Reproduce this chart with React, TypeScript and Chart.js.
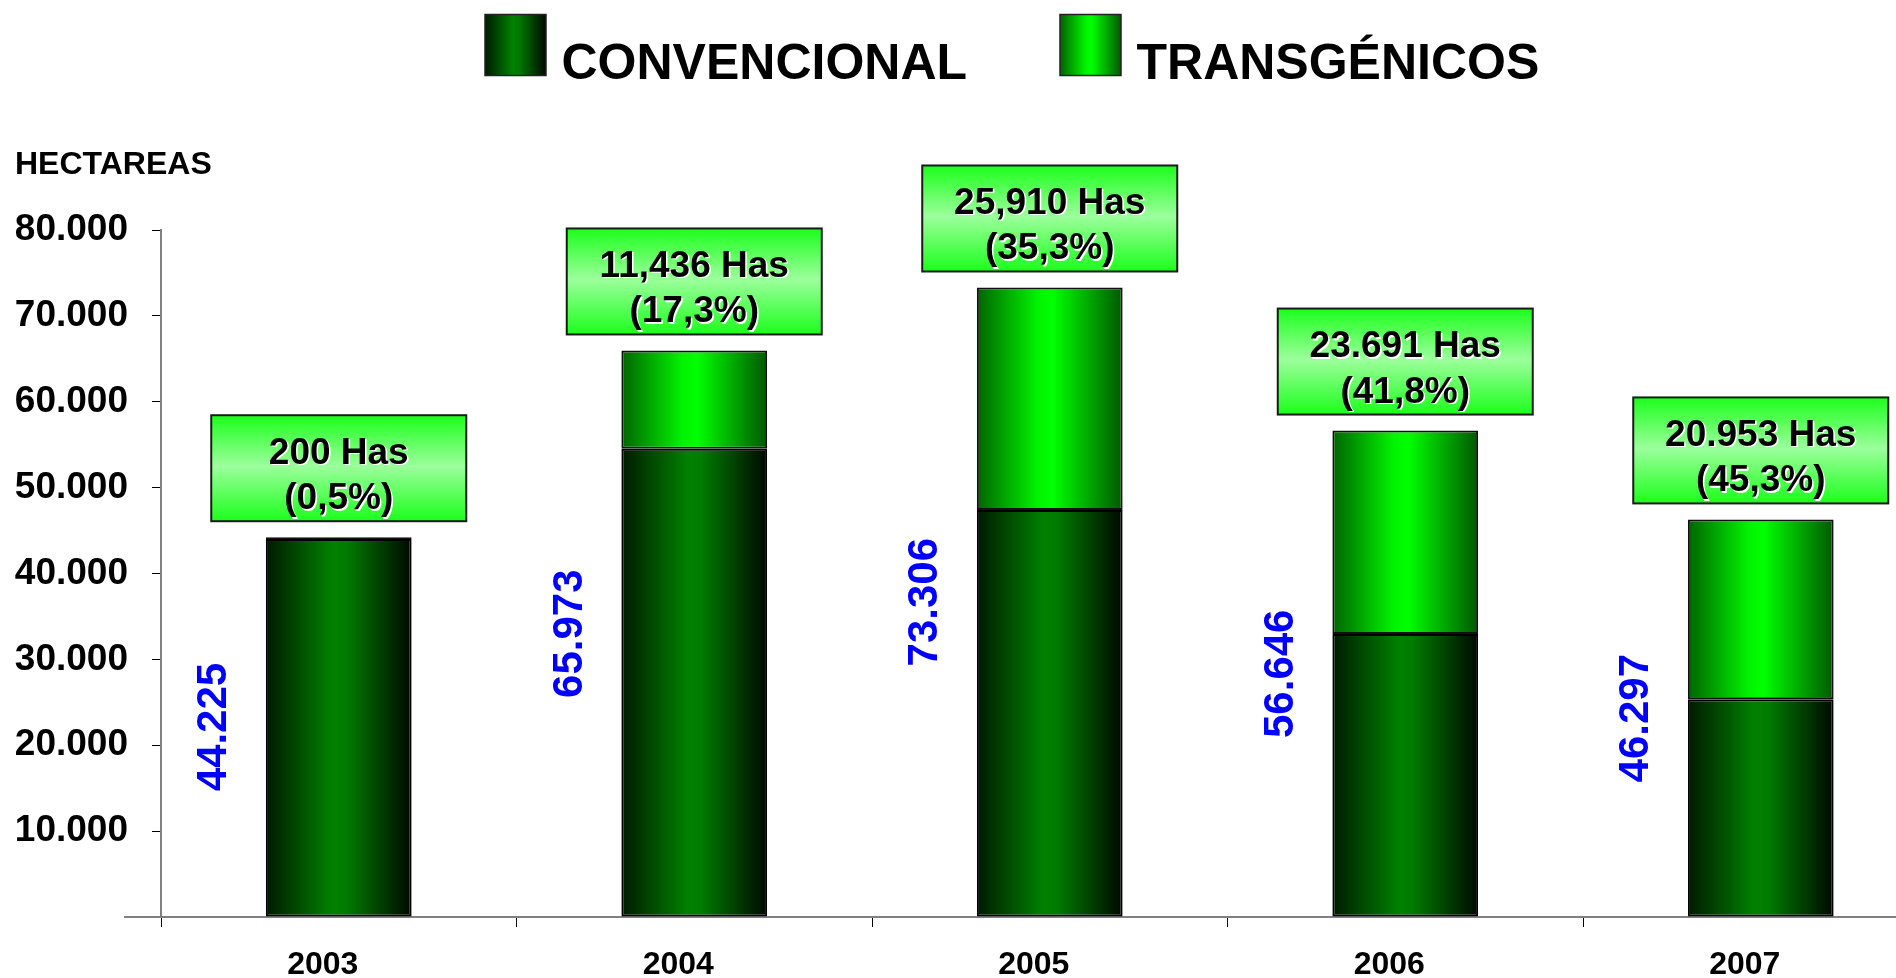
import React, { useEffect, useRef } from 'react';
import { Chart, registerables } from 'chart.js';

Chart.register(...registerables);

// ---- data ----
const years = ['2003', '2004', '2005', '2006', '2007'];
const convencional = [44025, 54537, 47396, 32955, 25344];
const transgenicos = [200, 11436, 25910, 23691, 20953];
const totalLabels = ['44.225', '65.973', '73.306', '56.646', '46.297'];
const hasLabels = ['200 Has', '11,436 Has', '25,910 Has', '23.691 Has', '20.953 Has'];
const pctLabels = ['(0,5%)', '(17,3%)', '(35,3%)', '(41,8%)', '(45,3%)'];
const seriesNames = ['CONVENCIONAL', 'TRANSGÉNICOS'];
const axisTitle = 'HECTAREAS';

const FONT = '"Liberation Sans", Arial, Helvetica, sans-serif';
const CANVAS_W = 1960;
const CANVAS_H = 978;
const BAR_PCT = 0.41;

const convStops: [number, string][] = [
  [0, '#001a00'],
  [0.45, '#008000'],
  [0.55, '#007c00'],
  [1, '#000800'],
];
const transStops: [number, string][] = [
  [0, '#006400'],
  [0.42, '#00f400'],
  [0.52, '#00ff00'],
  [1, '#005800'],
];

function hGrad(ctx: CanvasRenderingContext2D, x0: number, x1: number, stops: [number, string][]) {
  const g = ctx.createLinearGradient(x0, 0, x1, 0);
  stops.forEach(([o, c]) => g.addColorStop(o, c));
  return g;
}

function barFill(stops: [number, string][]) {
  return (c: any) => {
    const chart = c.chart;
    const xs = chart.scales && chart.scales.x;
    if (!chart.chartArea || !xs || c.type !== 'data') return stops[1][1];
    const cx = xs.getPixelForValue(c.dataIndex);
    const w = (xs.width / years.length) * BAR_PCT;
    return hGrad(chart.ctx, cx - w / 2, cx + w / 2, stops);
  };
}

const decorPlugin = {
  id: 'decor',
  afterDatasetsDraw(chart: any) {
    const ctx: CanvasRenderingContext2D = chart.ctx;
    const xs = chart.scales.x;
    const ys = chart.scales.y;
    const boxW = 255;
    const boxH = 106;
    const gap = 16;
    years.forEach((_, i) => {
      const total = convencional[i] + transgenicos[i];
      const cx = xs.getPixelForValue(i);
      const top = ys.getPixelForValue(total);

      // rotated total label
      ctx.save();
      ctx.translate(cx - 124, ys.getPixelForValue(total / 2));
      ctx.rotate(-Math.PI / 2);
      ctx.font = `bold 42px ${FONT}`;
      ctx.fillStyle = '#0000ff';
      ctx.textAlign = 'center';
      ctx.textBaseline = 'middle';
      ctx.fillText(totalLabels[i], 0, 0);
      ctx.restore();

      // callout box
      const bBottom = top - gap;
      const bTop = bBottom - boxH;
      const bLeft = cx - boxW / 2;
      ctx.save();
      const g = ctx.createLinearGradient(0, bTop, 0, bBottom);
      g.addColorStop(0, '#1cff1c');
      g.addColorStop(0.48, '#9cff9c');
      g.addColorStop(1, '#1cff1c');
      ctx.fillStyle = g;
      ctx.fillRect(bLeft, bTop, boxW, boxH);
      ctx.lineWidth = 2;
      ctx.strokeStyle = '#1a1a1a';
      ctx.strokeRect(bLeft, bTop, boxW, boxH);
      ctx.font = `bold 37px ${FONT}`;
      ctx.textAlign = 'center';
      ctx.textBaseline = 'alphabetic';
      ctx.fillStyle = '#000';
      ctx.shadowColor = '#ffffff';
      ctx.shadowOffsetX = 1.5;
      ctx.shadowOffsetY = 1.5;
      ctx.shadowBlur = 0;
      ctx.fillText(hasLabels[i], cx, bTop + 48.5);
      ctx.fillText(pctLabels[i], cx, bTop + 94);
      ctx.restore();
    });
  },
  afterDraw(chart: any) {
    const ctx: CanvasRenderingContext2D = chart.ctx;
    const area = chart.chartArea;
    ctx.save();
    // x axis extension to the left of the y axis
    ctx.strokeStyle = '#808080';
    ctx.lineWidth = 2;
    ctx.beginPath();
    ctx.moveTo(124, area.bottom);
    ctx.lineTo(area.left, area.bottom);
    ctx.stroke();

    // axis title
    ctx.fillStyle = '#000';
    ctx.font = `bold 32px ${FONT}`;
    ctx.textAlign = 'left';
    ctx.textBaseline = 'alphabetic';
    ctx.fillText(axisTitle, 15, 174);

    // legend
    const items = [
      { x: 485, stops: convStops, tx: 561.5 },
      { x: 1060, stops: transStops, tx: 1136.5 },
    ];
    items.forEach((it, k) => {
      const w = 61;
      const h = 61;
      const y = 14.5;
      ctx.fillStyle = hGrad(ctx, it.x, it.x + w, it.stops);
      ctx.fillRect(it.x, y, w, h);
      ctx.lineWidth = 1.5;
      ctx.strokeStyle = '#222';
      ctx.strokeRect(it.x, y, w, h);
      ctx.fillStyle = '#000';
      ctx.font = `bold 50px ${FONT}`;
      ctx.fillText(seriesNames[k], it.tx, 79);
    });
    ctx.restore();
  },
};

export default function App() {
  const ref = useRef<HTMLCanvasElement | null>(null);

  useEffect(() => {
    const canvas = ref.current;
    if (!canvas) return;
    const chart = new Chart(canvas, {
      type: 'bar',
      data: {
        labels: years,
        datasets: [
          {
            label: seriesNames[0],
            data: convencional,
            backgroundColor: barFill(convStops),
            borderColor: '#000',
            borderWidth: 2,
            borderSkipped: false,
            barPercentage: BAR_PCT,
            categoryPercentage: 1,
          },
          {
            label: seriesNames[1],
            data: transgenicos,
            backgroundColor: barFill(transStops),
            borderColor: '#111',
            borderWidth: 2,
            borderSkipped: false,
            barPercentage: BAR_PCT,
            categoryPercentage: 1,
          },
        ],
      },
      options: {
        responsive: false,
        animation: false,
        devicePixelRatio: 1,
        layout: { padding: { left: 0, top: 230, right: CANVAS_W - 1938.5, bottom: 0 } },
        plugins: {
          legend: { display: false },
          tooltip: { enabled: false },
          title: { display: false },
        },
        scales: {
          x: {
            stacked: true,
            ticks: {
              font: { family: FONT, size: 32, weight: 'bold' },
              color: '#000',
              padding: 19,
              labelOffset: -16,
              maxRotation: 0,
              autoSkip: false,
            },
            grid: {
              drawOnChartArea: false,
              offset: true,
              tickLength: 10,
              tickColor: '#000',
              tickWidth: 1,
            },
            border: { display: true, color: '#808080', width: 2 },
            afterFit: (s: any) => {
              s.height = 61;
            },
          },
          y: {
            stacked: true,
            min: 0,
            max: 80000,
            ticks: {
              stepSize: 10000,
              callback: (v: any) => (v === 0 ? '' : `${v / 1000}.000`),
              font: { family: FONT, size: 37, weight: 'bold' },
              color: '#000',
              padding: 24,
            },
            grid: {
              drawOnChartArea: false,
              tickLength: 9,
              tickColor: '#000',
              tickWidth: 1,
            },
            border: { display: true, color: '#808080', width: 2 },
            afterFit: (s: any) => {
              s.width = 161;
            },
          },
        },
      },
      plugins: [decorPlugin],
    });
    return () => chart.destroy();
  }, []);

  return (
    <div
      style={{
        position: 'absolute',
        left: 0,
        top: 0,
        width: 1896,
        height: 978,
        overflow: 'hidden',
        background: '#fff',
      }}
    >
      <canvas
        ref={ref}
        width={CANVAS_W}
        height={CANVAS_H}
        style={{ display: 'block', width: CANVAS_W, height: CANVAS_H }}
      />
    </div>
  );
}
